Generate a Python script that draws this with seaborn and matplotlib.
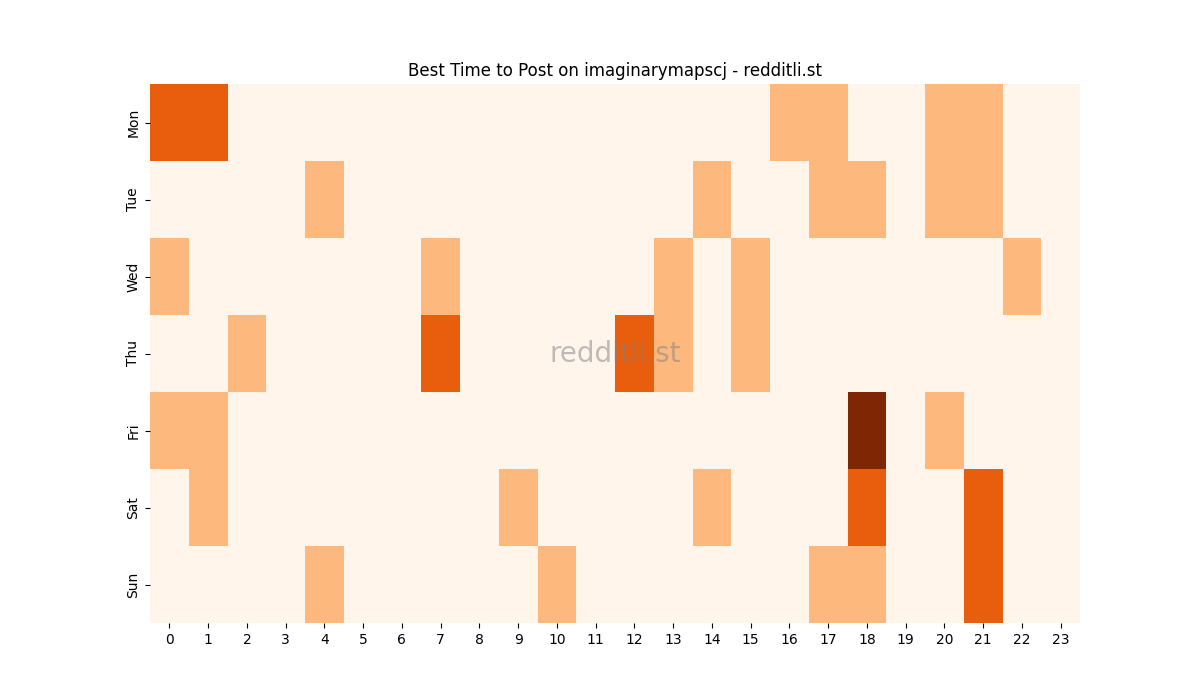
import pandas as pd
import matplotlib.pyplot as plt
import seaborn as sns

days = ["Mon", "Tue", "Wed", "Thu", "Fri", "Sat", "Sun"]
hours = list(range(24))

# posts per (day, hour)
mon = [2, 2, 0, 0, 0, 0, 0, 0, 0, 0, 0, 0, 0, 0, 0, 0, 1, 1, 0, 0, 1, 1, 0, 0]
tue = [0, 0, 0, 0, 1, 0, 0, 0, 0, 0, 0, 0, 0, 0, 1, 0, 0, 1, 1, 0, 1, 1, 0, 0]
wed = [1, 0, 0, 0, 0, 0, 0, 1, 0, 0, 0, 0, 0, 1, 0, 1, 0, 0, 0, 0, 0, 0, 1, 0]
thu = [0, 0, 1, 0, 0, 0, 0, 2, 0, 0, 0, 0, 2, 1, 0, 1, 0, 0, 0, 0, 0, 0, 0, 0]
fri = [1, 1, 0, 0, 0, 0, 0, 0, 0, 0, 0, 0, 0, 0, 0, 0, 0, 0, 3, 0, 1, 0, 0, 0]
sat = [0, 1, 0, 0, 0, 0, 0, 0, 0, 1, 0, 0, 0, 0, 1, 0, 0, 0, 2, 0, 0, 2, 0, 0]
sun = [0, 0, 0, 0, 1, 0, 0, 0, 0, 0, 1, 0, 0, 0, 0, 0, 0, 1, 1, 0, 0, 2, 0, 0]

df = pd.DataFrame([mon, tue, wed, thu, fri, sat, sun], index=days, columns=hours)

fig, ax = plt.subplots(figsize=(12, 7), dpi=100)
sns.heatmap(df, cmap="Oranges", cbar=False, ax=ax)
ax.set_title("Best Time to Post on imaginarymapscj - redditli.st")
ax.set_xlabel("")
ax.set_ylabel("")
plt.setp(ax.get_yticklabels(), rotation=90, va="center")
plt.setp(ax.get_xticklabels(), rotation=0)
ax.text(0.5, 0.5, "redditli.st", transform=ax.transAxes, ha="center", va="center",
        fontsize=20, color="gray", alpha=0.5)

plt.savefig("out.png")
